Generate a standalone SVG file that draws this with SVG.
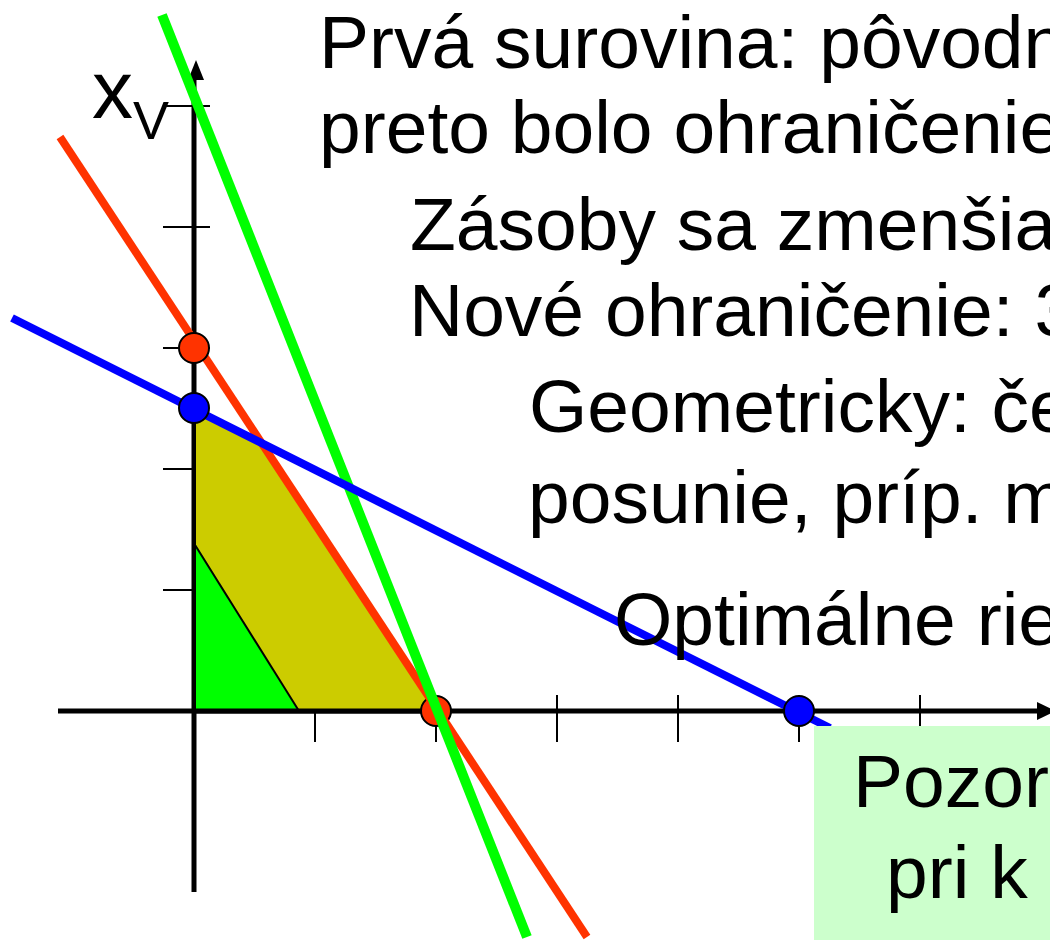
<svg xmlns="http://www.w3.org/2000/svg" width="1050" height="940" viewBox="0 0 1050 940">
<style>
text{font-family:"Liberation Sans",Arial,sans-serif;fill:#000}
.t{font-size:75px}
.tick{stroke:#000;stroke-width:2}
.ax{stroke:#000;stroke-width:5}
.pt{stroke:#000;stroke-width:2}
</style>
<rect width="1050" height="940" fill="#fff"/>
<g id="axes">
<line class="ax" x1="58" y1="711" x2="1040" y2="711"/>
<polygon points="1056,711 1037,702 1037,720" fill="#000"/>
<line class="ax" x1="194" y1="892" x2="194" y2="76"/>
<polygon points="196,60 188,80 204,80" fill="#000"/>
<g id="ticks">
<line class="tick" x1="163" y1="106" x2="210" y2="106"/>
<line class="tick" x1="163" y1="227" x2="210" y2="227"/>
<line class="tick" x1="163" y1="348" x2="210" y2="348"/>
<line class="tick" x1="163" y1="469" x2="210" y2="469"/>
<line class="tick" x1="163" y1="590" x2="210" y2="590"/>
<line class="tick" x1="315" y1="695" x2="315" y2="742"/>
<line class="tick" x1="436" y1="695" x2="436" y2="742"/>
<line class="tick" x1="557" y1="695" x2="557" y2="742"/>
<line class="tick" x1="678" y1="695" x2="678" y2="742"/>
<line class="tick" x1="799" y1="695" x2="799" y2="742"/>
<line class="tick" x1="920" y1="695" x2="920" y2="742"/>
</g>
</g>
<g id="feasible-region">
<polygon points="196,408 255,438 436,711 196,711" fill="#CCCC00"/>
</g>
<g id="small-region">
<polygon points="196,545 299,711 196,711" fill="#00FF00"/>
<line x1="195" y1="545" x2="299" y2="711" stroke="#000" stroke-width="2"/>
</g>
<line x1="194" y1="711" x2="440" y2="711" class="ax"/>
<g id="point-red-x">
<circle class="pt" cx="436" cy="711" r="15" fill="#FF3300"/>
</g>
<g id="connectors">
<line x1="60" y1="137" x2="587" y2="937" stroke="#FF3300" stroke-width="8"/>
<line x1="162" y1="15" x2="527" y2="937" stroke="#00FF00" stroke-width="10"/>
<line x1="12" y1="318" x2="830" y2="728" stroke="#0000FF" stroke-width="8"/>
</g>
<g id="point-red-y">
<circle class="pt" cx="194" cy="348" r="15" fill="#FF3300"/>
</g>
<g id="point-blue-y">
<circle class="pt" cx="194" cy="408" r="15" fill="#0000FF"/>
</g>
<g id="point-blue-x">
<circle class="pt" cx="799" cy="711" r="15" fill="#0000FF"/>
</g>
<g id="axis-label">
<text x="92" y="118" font-size="82">x</text>
<text x="133" y="139" font-size="54">V</text>
</g>
<g id="text">
<text class="t" x="319" y="68">Prvá surovina: pôvodn</text>
<text class="t" x="319" y="153">preto bolo ohraničenie</text>
<text class="t" x="410" y="250">Zásoby sa zmenšia</text>
<text class="t" x="409" y="336">Nové ohraničenie: 3</text>
<text class="t" x="529" y="432">Geometricky: če</text>
<text class="t" x="528" y="523">posunie, príp. m</text>
<text class="t" x="614" y="645">Optimálne rie</text>
</g>
<g id="note-box">
<rect x="814" y="726" width="240" height="220" fill="#CCFFCC"/>
<text class="t" x="853" y="807" font-size="77">Pozor</text>
<text class="t" x="886" y="898" font-size="77">pri k</text>
</g>
</svg>
